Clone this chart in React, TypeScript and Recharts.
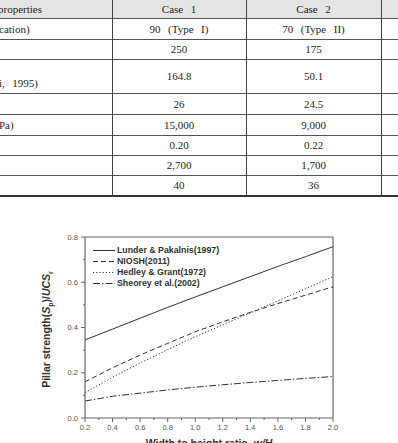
import React from 'react';
import { LineChart, Line, XAxis, YAxis, ReferenceLine, Legend } from 'recharts';

// ---------- chart data ----------
const ratios = [0.2, 0.4, 0.6, 0.8, 1.0, 1.2, 1.4, 1.6, 1.8, 2.0];
const lunder = [0.345, 0.393, 0.441, 0.489, 0.535, 0.58, 0.625, 0.67, 0.713, 0.757];
const niosh = [0.16, 0.222, 0.278, 0.33, 0.381, 0.425, 0.467, 0.506, 0.543, 0.58];
const hedley = [0.112, 0.18, 0.243, 0.302, 0.359, 0.412, 0.465, 0.518, 0.571, 0.625];
const sheorey = [0.075, 0.096, 0.11, 0.124, 0.136, 0.147, 0.157, 0.166, 0.175, 0.183];
const seriesNames = ['Lunder & Pakalnis(1997)', 'NIOSH(2011)', 'Hedley & Grant(1972)', 'Sheorey et al.(2002)'];
const seriesKeys = ['lunder', 'niosh', 'hedley', 'sheorey'];
const xTicks = [0.2, 0.3, 0.4, 0.5, 0.6, 0.7, 0.8, 0.9, 1.0, 1.1, 1.2, 1.3, 1.4, 1.5, 1.6, 1.7, 1.8, 1.9, 2.0];
const yTicks = [0, 0.1, 0.2, 0.3, 0.4, 0.5, 0.6, 0.7, 0.8];

// ---------- table data ----------
const headerLabels = ['properties', 'Case  1', 'Case  2'];
const rowLabels = ['cation)', '', '\ni,  1995)', '', 'Pa)', '', '', ''];
const case1Values = ['90  (Type  I)', '250', '164.8', '26', '15,000', '0.20', '2,700', '40'];
const case2Values = ['70  (Type  II)', '175', '50.1', '24.5', '9,000', '0.22', '1,700', '36'];

// layout (not data)
const rowEdges = [-2, 18, 39, 59, 93, 114, 135, 155, 175, 195];
const colEdges = [112, 246, 381];
const dashStyles = ['', '5 3', '1.2 2', '7 2 1.5 2'];

const chartData = ratios.map((x, i) => ({
  x,
  lunder: lunder[i],
  niosh: niosh[i],
  hedley: hedley[i],
  sheorey: sheorey[i],
}));

const SANS = '"Liberation Sans", Arial, Helvetica, sans-serif';
const SERIF = '"Liberation Serif", "Times New Roman", serif';

function XTick(props: any) {
  const { x, y, payload } = props;
  const v = payload.value as number;
  const major = Math.round(v * 10) % 2 === 0;
  return (
    <g>
      <line x1={x} x2={x} y1={y} y2={y + (major ? 4 : 2)} stroke="#666" strokeWidth={1} />
      {major && (
        <text x={x} y={y + 12} textAnchor="middle" fontSize={7.5} fill="#555" fontFamily={SANS}>
          {v.toFixed(1)}
        </text>
      )}
    </g>
  );
}

function YTick(props: any) {
  const { x, y, payload } = props;
  const v = payload.value as number;
  const major = Math.round(v * 10) % 2 === 0;
  return (
    <g>
      <line x1={x - (major ? 4 : 2)} x2={x} y1={y} y2={y} stroke="#666" strokeWidth={1} />
      {major && (
        <text x={x - 7} y={y + 2.7} textAnchor="end" fontSize={7.5} fill="#555" fontFamily={SANS}>
          {v.toFixed(1)}
        </text>
      )}
    </g>
  );
}

function renderYLabel(props: any) {
  const vb = props.viewBox || { x: 0, y: 37, width: 85, height: 181 };
  const cx = 50;
  const cy = vb.y + vb.height / 2 + 2;
  return (
    <text
      x={cx}
      y={cy}
      transform={`rotate(-90, ${cx}, ${cy})`}
      textAnchor="middle"
      fontSize={10.5}
      fontWeight="bold"
      fill="#333"
      fontFamily={SANS}
    >
      <tspan>Pillar strength(</tspan>
      <tspan fontStyle="italic">S</tspan>
      <tspan fontSize={7} dy={2.5}>p</tspan>
      <tspan dy={-2.5}>)/</tspan>
      <tspan fontStyle="italic">UCS</tspan>
      <tspan fontSize={7} dy={2.5}>r</tspan>
    </text>
  );
}

function renderXLabel(props: any) {
  const vb = props.viewBox || { x: 85, y: 218, width: 248, height: 25 };
  return (
    <text
      x={vb.x + vb.width / 2}
      y={vb.y + 29}
      textAnchor="middle"
      fontSize={10.5}
      fontWeight="bold"
      fill="#333"
      fontFamily={SANS}
    >
      <tspan>Width to height ratio, </tspan>
      <tspan fontStyle="italic">w/H</tspan>
    </text>
  );
}

function LegendContent() {
  return (
    <div style={{ fontFamily: SANS, fontSize: 8.8, fontWeight: 'bold', color: '#333' }}>
      {seriesNames.map((name, i) => (
        <div key={name} style={{ display: 'flex', alignItems: 'center', height: 11, lineHeight: '11px', whiteSpace: 'nowrap' }}>
          <svg width={22} height={11} style={{ display: 'block', marginRight: 2 }}>
            <line x1={0} x2={22} y1={5.5} y2={5.5} stroke="#333" strokeWidth={1} strokeDasharray={dashStyles[i] || undefined} />
          </svg>
          <span>{name}</span>
        </div>
      ))}
    </div>
  );
}

function Table() {
  const lineColor = '#555';
  return (
    <div style={{ position: 'absolute', left: 0, top: 0, width: 398, height: 200, fontFamily: SERIF, fontSize: 11, color: '#1f1f1f' }}>
      {/* header background */}
      <div style={{ position: 'absolute', left: 0, top: 0, width: 398, height: 18, background: '#e4e4e4' }} />
      {/* horizontal lines */}
      {rowEdges.slice(1).map((y, i) => (
        <div
          key={'h' + i}
          style={{
            position: 'absolute',
            left: 0,
            top: y,
            width: 398,
            height: i === rowEdges.length - 2 ? 2 : 1,
            background: i === rowEdges.length - 2 ? '#333' : lineColor,
          }}
        />
      ))}
      {/* vertical lines */}
      {colEdges.map((x, i) => (
        <div key={'v' + i} style={{ position: 'absolute', left: x, top: 0, width: 1, height: 196, background: '#444' }} />
      ))}
      {/* header text */}
      {[0, 1, 2].map((c) => {
        const left = c === 0 ? -2 : colEdges[c - 1];
        const width = c === 0 ? 114 : colEdges[c] - colEdges[c - 1];
        return (
          <div
            key={'hd' + c}
            style={{
              position: 'absolute',
              left,
              top: 0,
              width,
              height: 18,
              lineHeight: '18px',
              textAlign: c === 0 ? 'left' : 'center',
              wordSpacing: 1,
              whiteSpace: 'pre',
            }}
          >
            {headerLabels[c]}
          </div>
        );
      })}
      {/* body rows */}
      {case1Values.map((_, r) => {
        const top = rowEdges[r + 1] + 1;
        const h = rowEdges[r + 2] - rowEdges[r + 1] - 1;
        const cells = [rowLabels[r], case1Values[r], case2Values[r]];
        return cells.map((txt, c) => {
          const left = c === 0 ? -1 : colEdges[c - 1];
          const width = c === 0 ? 113 : colEdges[c] - colEdges[c - 1];
          return (
            <div
              key={'c' + r + '-' + c}
              style={{
                position: 'absolute',
                left,
                top,
                width,
                height: h,
                display: 'flex',
                alignItems: 'center',
                justifyContent: c === 0 ? 'flex-start' : 'center',
                whiteSpace: 'pre',
                lineHeight: '13px',
                wordSpacing: 1,
              }}
            >
              <span>{txt}</span>
            </div>
          );
        });
      })}
    </div>
  );
}

export default function App() {
  return (
    <div style={{ position: 'absolute', left: 0, top: 0, width: 398, height: 443, overflow: 'hidden', background: '#fff' }}>
      <Table />
      <div style={{ position: 'absolute', left: 0, top: 200, width: 398, height: 260 }}>
        <LineChart width={398} height={260} data={chartData} margin={{ top: 37, right: 65, bottom: 17, left: 0 }}>
          <XAxis
            dataKey="x"
            type="number"
            domain={[0.2, 2.0]}
            ticks={xTicks}
            interval={0}
            tick={<XTick />}
            tickLine={false}
            tickSize={0}
            tickMargin={0}
            height={25}
            stroke="#666"
            strokeWidth={1.2}
            allowDataOverflow
            label={renderXLabel}
          />
          <YAxis
            type="number"
            domain={[0, 0.8]}
            ticks={yTicks}
            interval={0}
            tick={<YTick />}
            tickLine={false}
            tickSize={0}
            tickMargin={0}
            width={85}
            stroke="#666"
            strokeWidth={1.2}
            allowDataOverflow
            label={renderYLabel}
          />
          <ReferenceLine y={0.8} stroke="#666" strokeWidth={1.2} />
          <ReferenceLine x={2.0} stroke="#666" strokeWidth={1.2} />
          <Legend
            layout="vertical"
            align="center"
            verticalAlign="middle"
            content={<LegendContent />}
            wrapperStyle={{ left: 93, top: 45, width: 200, height: 46 }}
          />
          {seriesKeys.map((k, i) => (
            <Line
              key={k}
              type="linear"
              dataKey={k}
              name={seriesNames[i]}
              stroke="#333"
              strokeWidth={1}
              strokeDasharray={dashStyles[i] || undefined}
              dot={false}
              activeDot={false}
              isAnimationActive={false}
            />
          ))}
        </LineChart>
      </div>
    </div>
  );
}
